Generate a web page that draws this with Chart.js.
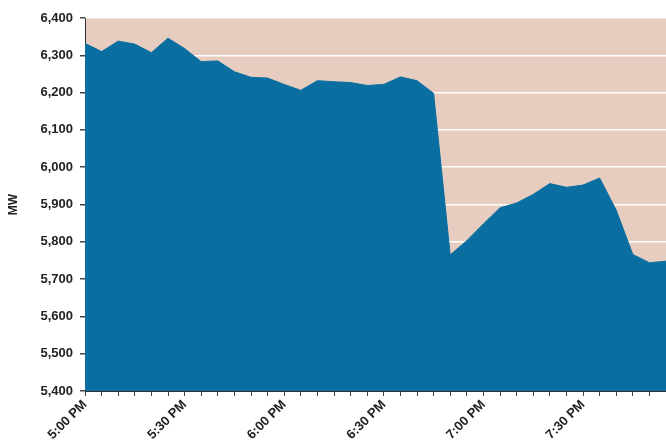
<!DOCTYPE html>
<html>
<head>
<meta charset="utf-8">
<script src="https://cdn.jsdelivr.net/npm/chart.js@4/dist/chart.umd.min.js"></script>
<style>
  html, body { margin: 0; padding: 0; background: #fff; }
  #wrap { width: 666px; height: 445px; position: relative; }
</style>
</head>
<body>
<div id="wrap"><canvas id="myChart"></canvas></div>
<script>
// 5-minute readings, 5:00 PM to 7:55 PM
const times = [
  '5:00 PM', '5:05 PM', '5:10 PM', '5:15 PM', '5:20 PM', '5:25 PM',
  '5:30 PM', '5:35 PM', '5:40 PM', '5:45 PM', '5:50 PM', '5:55 PM',
  '6:00 PM', '6:05 PM', '6:10 PM', '6:15 PM', '6:20 PM', '6:25 PM',
  '6:30 PM', '6:35 PM', '6:40 PM', '6:45 PM', '6:50 PM', '6:55 PM',
  '7:00 PM', '7:05 PM', '7:10 PM', '7:15 PM', '7:20 PM', '7:25 PM',
  '7:30 PM', '7:35 PM', '7:40 PM', '7:45 PM', '7:50 PM', '7:55 PM'
];
const load = [
  6332, 6310, 6338, 6330, 6307, 6346,
  6318, 6283, 6285, 6256, 6241, 6239,
  6222, 6206, 6232, 6229, 6227, 6219,
  6222, 6242, 6232, 6198, 5765, 5803,
  5848, 5891, 5904, 5927, 5956, 5946,
  5952, 5971, 5885, 5766, 5744, 5748
];
const shownTicks = ['5:00 PM', '5:30 PM', '6:00 PM', '6:30 PM', '7:00 PM', '7:30 PM'];
const yMin = 5400;
const yMax = 6400;
const yStep = 100;

const plotBg = {
  id: 'plotBg',
  beforeDraw: (chart) => {
    const { ctx, chartArea } = chart;
    ctx.save();
    ctx.fillStyle = '#e6cdbf';
    ctx.fillRect(chartArea.left, chartArea.top, chartArea.right - chartArea.left, chartArea.bottom - chartArea.top);
    ctx.restore();
  },
};

const tickFont = { family: 'Liberation Sans, Arial, sans-serif', size: 13, weight: 'bold' };

new Chart(document.getElementById('myChart'), {
  type: 'line',
  data: {
    labels: times,
    datasets: [
      {
        label: 'MW',
        data: load,
        fill: 'start',
        backgroundColor: '#0a6ea1',
        borderColor: '#0a6ea1',
        borderWidth: 1,
        pointRadius: 0,
        tension: 0,
      },
    ],
  },
  plugins: [plotBg],
  options: {
    responsive: true,
    maintainAspectRatio: false,
    animation: false,
    layout: { padding: { top: 18, right: 0, left: 0, bottom: 0 } },
    plugins: { legend: { display: false }, tooltip: { enabled: false } },
    scales: {
      x: {
        offset: false,
        afterFit: (scale) => {
          scale.height = 54;
          scale.paddingRight = 0;
        },
        border: { color: '#333', width: 1 },
        grid: { drawOnChartArea: false, tickLength: 5, tickColor: '#444' },
        ticks: {
          autoSkip: false,
          maxRotation: 45,
          minRotation: 45,
          padding: 1,
          color: '#222',
          font: tickFont,
          callback: function (val) {
            const lab = this.getLabelForValue(val);
            return shownTicks.includes(lab) ? lab : '';
          },
        },
      },
      y: {
        min: yMin,
        max: yMax,
        afterFit: (scale) => { scale.width = 85; },
        border: { color: '#333', width: 1 },
        grid: { color: '#ffffff', lineWidth: 1.5, tickColor: '#444', tickLength: 5 },
        ticks: {
          stepSize: yStep,
          padding: 7,
          color: '#222',
          font: tickFont,
          callback: (v) => v.toLocaleString('en-US'),
        },
        title: {
          display: true,
          text: 'MW',
          color: '#222',
          font: { family: 'Liberation Sans, Arial, sans-serif', size: 12, weight: 'bold' },
          padding: { top: 6, bottom: 0 },
        },
      },
    },
  },
});
</script>
</body>
</html>
